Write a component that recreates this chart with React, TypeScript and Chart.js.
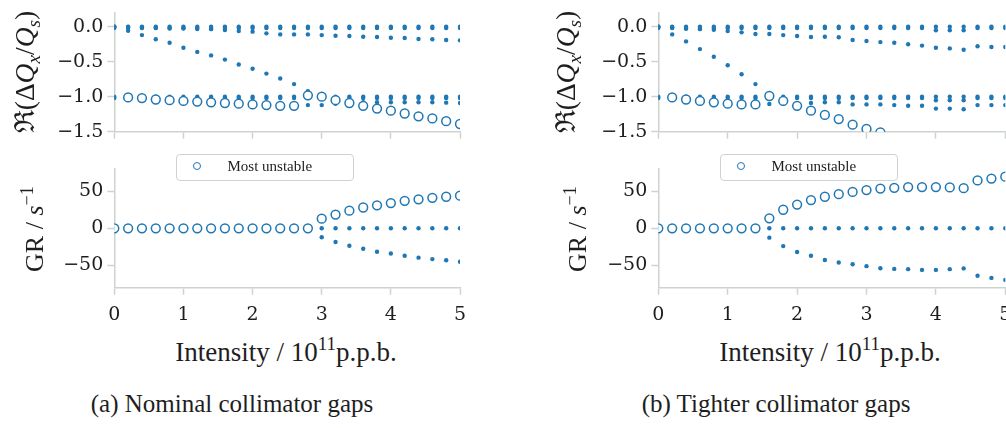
import React, { useEffect, useRef } from "react";
import { Chart, registerables } from "chart.js";

Chart.register(...registerables);

// ---------------- data ----------------
const intensity = [0, 0.2, 0.4, 0.6, 0.8, 1.0, 1.2, 1.4, 1.6, 1.8, 2.0, 2.2, 2.4, 2.6, 2.8, 3.0, 3.2, 3.4, 3.6, 3.8, 4.0, 4.2, 4.4, 4.6, 4.8, 5.0];
const xTicks = [0, 1, 2, 3, 4, 5];
const tuneTicks = [0, -0.5, -1.0, -1.5];
const grTicks = [50, 0, -50];

// (a) Nominal collimator gaps — real tune shift
const aTuneUnstable = [null, -1.01, -1.02, -1.04, -1.05, -1.06, -1.07, -1.08, -1.09, -1.10, -1.11, -1.12, -1.13, -1.13, -0.98, -1.00, -1.05, -1.09, -1.13, -1.17, -1.20, -1.24, -1.28, -1.31, -1.35, -1.39];
const aTuneMode0 = [0, 0, 0, 0, 0, 0, 0, 0, 0, 0, 0, 0, 0, 0, 0, 0, 0, 0, 0, 0, 0, 0, 0, 0, 0, 0];
const aTuneMode0b = [-0.02, -0.02, -0.02, -0.02, -0.02, -0.02, -0.02, -0.02, -0.02, -0.02, -0.02, -0.02, -0.02, -0.02, -0.02, -0.02, -0.02, -0.02, -0.02, -0.02, -0.02, -0.02, -0.02, -0.02, -0.02, -0.02];
const aTuneSlow = [0, -0.005, -0.01, -0.015, -0.025, -0.025, -0.033, -0.035, -0.048, -0.062, -0.071, -0.095, -0.11, -0.11, -0.11, -0.12, -0.13, -0.133, -0.143, -0.148, -0.157, -0.162, -0.176, -0.18, -0.19, -0.195];
const aTuneSteep = [0, -0.057, -0.12, -0.18, -0.23, -0.30, -0.36, -0.41, -0.47, -0.54, -0.60, -0.67, -0.74, -0.82, -0.92, null, null, null, null, null, null, null, null, null, null, null];
const aTuneMinus1 = [-1.0, -1.0, -1.0, -1.0, -1.0, -1.0, -1.0, -1.0, -1.0, -1.0, -1.0, -1.0, -1.0, -1.0, -1.0, -1.0, -1.0, -1.0, -1.0, -1.0, -1.0, -1.0, -1.0, -1.0, -1.0, -1.0];
const aTuneMinus1b = [-1.02, -1.02, -1.02, -1.02, -1.02, -1.02, -1.02, -1.02, -1.02, -1.02, -1.02, -1.02, -1.02, -1.02, -1.02, -1.02, -1.02, -1.02, -1.02, -1.02, -1.02, -1.02, -1.02, -1.02, -1.02, -1.02];
const aTuneLower = [null, null, null, null, null, null, null, null, null, null, null, null, null, null, -1.12, -1.12, -1.10, -1.09, -1.08, -1.08, -1.08, -1.08, -1.08, -1.08, -1.085, -1.09];

// (a) growth rate
const aGrUnstable = [0, 0, 0, 0, 0, 0, 0, 0, 0, 0, 0, 0, 0, 0, 0, 13, 18.5, 23.7, 28, 31, 34, 37, 39, 41, 42.5, 44];
const aGrStable = [0, 0, 0, 0, 0, 0, 0, 0, 0, 0, 0, 0, 0, 0, 0, 0, 0, 0, 0, 0, 0, 0, 0, 0, 0, 0];
const aGrDamped = [null, null, null, null, null, null, null, null, null, null, null, null, null, null, null, -12, -18.5, -23.5, -27.5, -31.5, -34, -37, -39.5, -41.5, -43, -45];

// (b) Tighter collimator gaps — real tune shift
const bTuneUnstable = [null, -1.01, -1.04, -1.06, -1.08, -1.10, -1.11, -1.11, -0.99, -1.06, -1.13, -1.20, -1.26, -1.32, -1.40, -1.46, -1.51, null, null, null, null, null, null, null, null, null];
const bTuneMode0 = [0, 0, 0, 0, 0, 0, 0, 0, 0, 0, 0, 0, 0, 0, 0, 0, 0, 0, 0, 0, 0, 0, 0, 0, 0, 0];
const bTuneMode0b = [-0.02, -0.02, -0.02, -0.02, -0.02, -0.02, -0.02, -0.02, -0.02, -0.02, -0.02, -0.02, -0.02, -0.02, -0.02, -0.02, -0.02, -0.02, -0.02, -0.02, -0.05, -0.05, -0.05, -0.02, -0.02, -0.02];
const bTuneSlow = [0, -0.01, -0.03, -0.035, -0.045, -0.062, -0.081, -0.105, -0.105, -0.12, -0.133, -0.148, -0.143, -0.15, -0.19, -0.205, -0.22, -0.23, -0.25, -0.27, -0.30, -0.31, -0.33, -0.28, -0.29, -0.29];
const bTuneSteep = [0, -0.11, -0.21, -0.32, -0.43, -0.55, -0.68, -0.82, null, null, null, null, null, null, null, null, null, null, null, null, null, null, null, null, null, null];
const bTuneMinus1 = [-1.0, -1.0, -1.0, -1.0, -1.0, -1.0, -1.0, -1.0, -1.0, -1.0, -1.0, -1.0, -1.0, -1.0, -1.0, -1.0, -1.0, -1.0, -1.0, -1.0, -1.0, -1.0, -1.0, -1.0, -1.0, -1.0];
const bTuneMinus1b = [-1.02, -1.02, -1.02, -1.02, -1.02, -1.02, -1.02, -1.02, -1.02, -1.02, -1.02, -1.02, -1.02, -1.02, -1.02, -1.02, -1.02, -1.02, -1.02, -1.02, -1.05, -1.05, -1.05, -1.02, -1.02, -1.02];
const bTuneLower = [null, null, null, null, null, null, null, null, -1.105, -1.10, -1.095, -1.09, -1.08, -1.08, -1.11, -1.11, -1.11, -1.12, -1.13, -1.13, -1.17, -1.17, -1.18, -1.12, -1.12, -1.12];

// (b) growth rate
const bGrUnstable = [0, 0, 0, 0, 0, 0, 0, 0, 13.5, 25, 32, 38, 42.5, 46, 49, 51.5, 53.5, 54.5, 55.5, 55.5, 55.5, 55, 54, 64.5, 67, 69.5];
const bGrStable = [0, 0, 0, 0, 0, 0, 0, 0, 0, 0, 0, 0, 0, 0, 0, 0, 0, 0, 0, 0, 0, 0, 0, 0, 0, 0];
const bGrDamped = [null, null, null, null, null, null, null, null, -12.6, -24, -32, -37, -42.6, -46, -48.4, -51, -53.8, -54.7, -55, -56, -56, -55, -54, -64, -66.8, -69.5];

const legendLabel = "Most unstable";
const captionA = "(a) Nominal collimator gaps";
const captionB = "(b) Tighter collimator gaps";

// ---------------- styling ----------------
const BLUE = "#1f77b4";
const SPINE = "#cdd3cd";
const TEXT = "#1e1e1e";
const SERIF = '"Liberation Serif", "DejaVu Serif", serif';
const TICK_FAMILY = '"DejaVu Serif", serif';

type Series = (number | null)[];

function pts(ys: Series) {
  const out: { x: number; y: number }[] = [];
  intensity.forEach((x, i) => {
    const y = ys[i];
    if (y !== null && y !== undefined) out.push({ x, y });
  });
  return out;
}

function dotSet(label: string, ys: Series) {
  return {
    label,
    data: pts(ys),
    pointRadius: 2.2,
    pointHoverRadius: 2.2,
    pointBackgroundColor: BLUE,
    pointBorderColor: BLUE,
    pointBorderWidth: 0,
    order: 2,
    clip: 0,
  };
}

function circleSet(ys: Series) {
  return {
    label: legendLabel,
    data: pts(ys),
    pointRadius: 4.4,
    pointHoverRadius: 4.4,
    pointBackgroundColor: "#ffffff",
    pointBorderColor: BLUE,
    pointBorderWidth: 1.5,
    order: 1,
    clip: 0,
  };
}

const fmtTune = (v: number) => (v < 0 ? "\u2212" : "") + Math.abs(v).toFixed(1);
const fmtGr = (v: number) => (v < 0 ? "\u2212" : "") + String(Math.abs(v));

type SubProps = {
  left: number;
  top: number;
  width: number;
  height: number;
  padTop: number;
  padRight: number;
  axisLeft: number;
  axisBottom: number;
  yMin: number;
  yMax: number;
  yTicks: number[];
  yFmt: (v: number) => string;
  showX: boolean;
  datasets: any[];
};

function zeroPadding(s: any) {
  s.paddingLeft = 0;
  s.paddingRight = 0;
  s.paddingTop = 0;
  s.paddingBottom = 0;
}

function SubChart(p: SubProps) {
  const ref = useRef<HTMLCanvasElement | null>(null);
  useEffect(() => {
    if (!ref.current) return;
    const tickFont = { family: TICK_FAMILY, size: 19 };
    const chart = new Chart(ref.current, {
      type: "scatter",
      data: { datasets: p.datasets },
      options: {
        responsive: false,
        animation: false,
        devicePixelRatio: 1,
        events: [],
        layout: {
          autoPadding: false,
          padding: { top: p.padTop, right: p.padRight, bottom: 0, left: 0 },
        },
        plugins: { legend: { display: false }, tooltip: { enabled: false } },
        scales: {
          x: {
            type: "linear",
            min: 0,
            max: 5,
            afterBuildTicks: (s: any) => {
              s.ticks = xTicks.map((v) => ({ value: v }));
            },
            afterFit: (s: any) => {
              s.height = p.axisBottom;
              zeroPadding(s);
            },
            border: { display: true, color: SPINE, width: 1.5 },
            grid: {
              display: true,
              drawOnChartArea: false,
              drawTicks: true,
              tickLength: 7,
              tickColor: SPINE,
              tickWidth: 1.5,
              color: SPINE,
            },
            ticks: {
              display: p.showX,
              autoSkip: false,
              maxRotation: 0,
              padding: 9,
              color: TEXT,
              font: tickFont,
              callback: (v: any) => String(v),
            },
          },
          y: {
            type: "linear",
            min: p.yMin,
            max: p.yMax,
            afterBuildTicks: (s: any) => {
              s.ticks = p.yTicks.map((v) => ({ value: v }));
            },
            afterFit: (s: any) => {
              s.width = p.axisLeft;
              zeroPadding(s);
            },
            border: { display: true, color: SPINE, width: 1.5 },
            grid: {
              display: true,
              drawOnChartArea: false,
              drawTicks: true,
              tickLength: 7,
              tickColor: SPINE,
              tickWidth: 1.5,
              color: SPINE,
            },
            ticks: {
              autoSkip: false,
              padding: 4,
              color: TEXT,
              font: tickFont,
              callback: (v: any) => p.yFmt(Number(v)),
            },
          },
        },
      } as any,
    });
    return () => chart.destroy();
  }, []);
  return (
    <canvas
      ref={ref}
      width={p.width}
      height={p.height}
      style={{ position: "absolute", left: p.left, top: p.top, width: p.width, height: p.height }}
    />
  );
}

function Text(props: { x: number; y: number; size: number; rotate?: boolean; children: any }) {
  return (
    <div
      style={{
        position: "absolute",
        left: props.x,
        top: props.y,
        transform: `translate(-50%, -50%)${props.rotate ? " rotate(-90deg)" : ""}`,
        fontSize: props.size,
        whiteSpace: "nowrap",
        lineHeight: 1,
        color: TEXT,
        fontFamily: SERIF,
      }}
    >
      {props.children}
    </div>
  );
}

const subStyle = { fontSize: "0.7em", verticalAlign: "-0.28em", lineHeight: 0 } as const;
const supStyle = { fontSize: "0.7em", verticalAlign: "0.55em", lineHeight: 0 } as const;

function TuneLabel() {
  return (
    <span>
      ℜ(Δ<i>Q</i>
      <i style={subStyle}>x</i>/<i>Q</i>
      <i style={subStyle}>s</i>)
    </span>
  );
}

function GrLabel() {
  return (
    <span>
      GR / <i>s</i>
      <span style={supStyle}>−1</span>
    </span>
  );
}

function XLabel() {
  return (
    <span>
      Intensity / 10<span style={supStyle}>11</span>p.p.b.
    </span>
  );
}

function Legend(props: { left: number }) {
  return (
    <div
      style={{
        position: "absolute",
        left: props.left,
        top: 154,
        width: 176,
        height: 25,
        border: `1.5px solid ${SPINE}`,
        borderRadius: 4,
        background: "rgba(255,255,255,0.85)",
      }}
    >
      <div
        style={{
          position: "absolute",
          left: 16,
          top: 6.7,
          width: 6,
          height: 6,
          border: `1.5px solid ${BLUE}`,
          borderRadius: "50%",
        }}
      />
      <div
        style={{
          position: "absolute",
          left: 50.5,
          top: 11.2,
          transform: "translateY(-50%)",
          fontSize: 15,
          fontFamily: SERIF,
          color: TEXT,
          whiteSpace: "nowrap",
          lineHeight: 1,
        }}
      >
        {legendLabel}
      </div>
    </div>
  );
}

function Panel(props: {
  left: number;
  width: number;
  padRight: number;
  tuneSets: any[];
  grSets: any[];
  yLabelX: number;
  grLabelX: number;
  xTitleX: number;
  captionX: number;
  legendLeft: number;
  caption: string;
}) {
  return (
    <>
      <SubChart
        left={props.left}
        top={0}
        width={props.width}
        height={145}
        padTop={12.7}
        padRight={props.padRight}
        axisLeft={114.3}
        axisBottom={145 - 131.7}
        yMin={-1.5}
        yMax={0.2}
        yTicks={tuneTicks}
        yFmt={fmtTune}
        showX={false}
        datasets={props.tuneSets}
      />
      <SubChart
        left={props.left}
        top={150}
        width={props.width}
        height={180}
        padTop={168.9 - 150}
        padRight={props.padRight}
        axisLeft={114.3}
        axisBottom={180 - (287.7 - 150)}
        yMin={-80}
        yMax={80}
        yTicks={grTicks}
        yFmt={fmtGr}
        showX={true}
        datasets={props.grSets}
      />
      <Text x={props.yLabelX} y={72} size={27.5} rotate>
        <TuneLabel />
      </Text>
      <Text x={props.grLabelX} y={229} size={26} rotate>
        <GrLabel />
      </Text>
      <Text x={props.xTitleX} y={352} size={27}>
        <XLabel />
      </Text>
      <Text x={props.captionX} y={403} size={25}>
        {props.caption}
      </Text>
      <Legend left={props.legendLeft} />
    </>
  );
}

export default function App() {
  const aTune = [
    circleSet(aTuneUnstable),
    dotSet("mode 0", aTuneMode0),
    dotSet("mode 0b", aTuneMode0b),
    dotSet("slow", aTuneSlow),
    dotSet("steep", aTuneSteep),
    dotSet("mode -1", aTuneMinus1),
    dotSet("mode -1b", aTuneMinus1b),
    dotSet("lower", aTuneLower),
  ];
  const aGr = [circleSet(aGrUnstable), dotSet("stable", aGrStable), dotSet("damped", aGrDamped)];
  const bTune = [
    circleSet(bTuneUnstable),
    dotSet("mode 0", bTuneMode0),
    dotSet("mode 0b", bTuneMode0b),
    dotSet("slow", bTuneSlow),
    dotSet("steep", bTuneSteep),
    dotSet("mode -1", bTuneMinus1),
    dotSet("mode -1b", bTuneMinus1b),
    dotSet("lower", bTuneLower),
  ];
  const bGr = [circleSet(bGrUnstable), dotSet("stable", bGrStable), dotSet("damped", bGrDamped)];

  return (
    <div
      style={{
        position: "fixed",
        left: 0,
        top: 0,
        width: 1006,
        height: 428,
        overflow: "hidden",
        background: "#ffffff",
        fontFamily: SERIF,
      }}
    >
      <Panel
        left={0}
        width={490}
        padRight={490 - 460}
        tuneSets={aTune}
        grSets={aGr}
        yLabelX={25}
        grLabelX={35}
        xTitleX={286}
        captionX={232}
        legendLeft={176}
        caption={captionA}
      />
      <Panel
        left={544}
        width={462}
        padRight={462 - 461.3}
        tuneSets={bTune}
        grSets={bGr}
        yLabelX={566}
        grLabelX={578}
        xTitleX={830}
        captionX={776}
        legendLeft={720}
        caption={captionB}
      />
    </div>
  );
}
